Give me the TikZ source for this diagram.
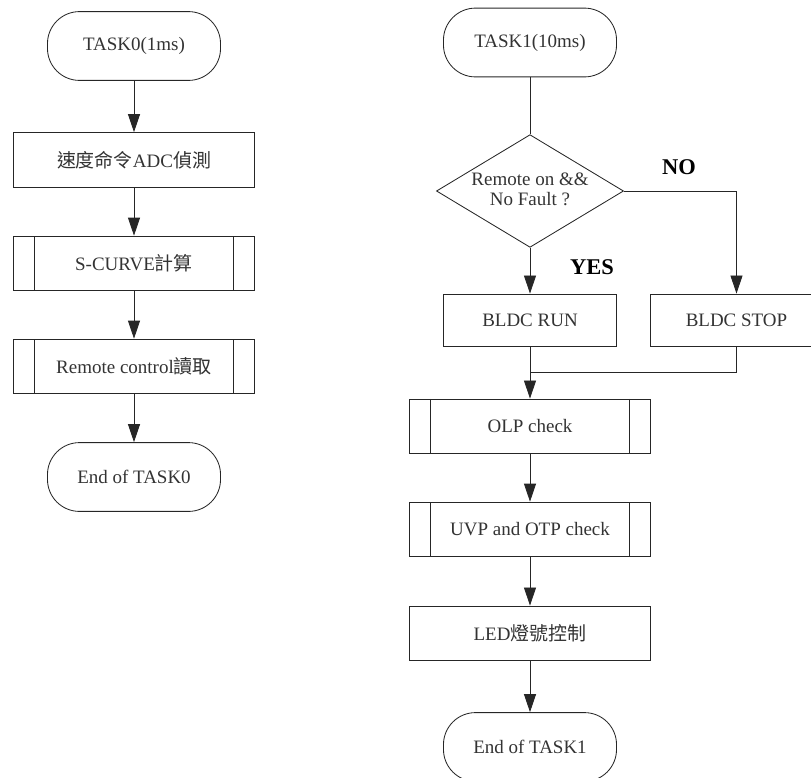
\documentclass[tikz,border=0pt]{standalone}
\usepackage{fontspec}
\setmainfont{Liberation Serif}
\newfontfamily\cjk{Noto Sans CJK TC}
\usepackage{tikz}
\usetikzlibrary{positioning}
\usetikzlibrary{shapes.geometric,arrows.meta}

\tikzset{
  every node/.style={font=\fontsize{13.5}{16}\selectfont, text=black!80},
  term/.style={draw, rectangle, rounded corners=0.8cm, minimum width=4.325cm, minimum height=1.72cm, inner sep=0pt},
  proc/.style={draw, rectangle, minimum width=6.03cm, minimum height=1.37cm, inner sep=0pt},
  subproc/.style={proc, path picture={
      \draw ([xshift=0.525cm]path picture bounding box.north west) -- ([xshift=0.525cm]path picture bounding box.south west);
      \draw ([xshift=-0.525cm]path picture bounding box.north east) -- ([xshift=-0.525cm]path picture bounding box.south east);}},
  decide/.style={draw, diamond, aspect=1.66, minimum width=4.325cm, minimum height=2.6cm, inner sep=0pt},
  flow/.style={draw=black!85, line width=0.6pt, -{Triangle[length=0.45cm,width=0.3cm]}},
  tag/.style={font=\fontsize{16}{18}\selectfont\bfseries, text=black}
}

\begin{document}
\begin{tikzpicture}[x=0.025cm, y=-0.025cm, line width=0.6pt, draw=black!85]
\useasboundingbox (0,0) rectangle (811,778);
\clip (0,0) rectangle (811,778);

% TASK0
\node[term] (t0) at (134,46) {TASK0(1ms)};
\node[proc] (adc) at (134,160) {{\cjk 速度命令}ADC{\cjk 偵測}};
\node[subproc] (scurve) at (134,263.5) {S-CURVE{\cjk 計算}};
\node[subproc] (remote) at (134,366.5) {Remote control{\cjk 讀取}};
\node[term] (e0) at (134,477) {End of TASK0};

\draw[flow] (t0) -- (adc);
\draw[flow] (adc) -- (scurve);
\draw[flow] (scurve) -- (remote);
\draw[flow] (remote) -- (e0);

% TASK1
\node[term] (t1) at (530,42.5) {TASK1(10ms)};
\node[decide] (dec) at (530,191) {\begin{tabular}{@{}c@{}}Remote on \&\&\\[-2pt] No Fault ?\end{tabular}};
\node[proc, minimum width=4.325cm, minimum height=1.3cm] (run) at (530,320) {BLDC RUN};
\node[proc, minimum width=4.325cm, minimum height=1.3cm] (stop) at (736.5,320) {BLDC STOP};
\node[subproc, minimum height=1.35cm] (olp) at (530,426) {OLP check};
\node[subproc] (uvp) at (530,529.5) {UVP and OTP check};
\node[proc, minimum height=1.35cm] (led) at (530,633) {LED{\cjk 燈號控制}};
\node[term] (e1) at (530,747) {End of TASK1};
\coordinate (join) at (530,372);

\node[tag] (no) at (679,167) {NO};
\node[tag] (yes) at (592,267) {YES};

\draw (t1) -- (dec);
\draw[flow] (dec) -- (run);
\draw[flow] (dec.east) -| (stop);
\draw (stop.south) |- (join);
\draw[flow] (run) -- (olp);
\draw[flow] (olp) -- (uvp);
\draw[flow] (uvp) -- (led);
\draw[flow] (led) -- (e1);
\end{tikzpicture}
\end{document}
